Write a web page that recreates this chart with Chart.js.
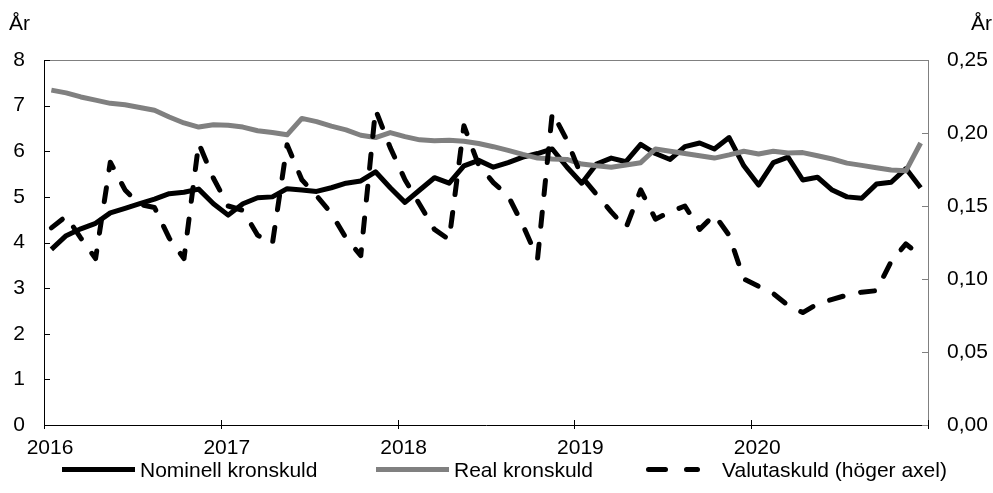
<!DOCTYPE html>
<html lang="sv">
<head>
<meta charset="utf-8">
<title>Statsskuldens löptid</title>
<script src="https://cdn.jsdelivr.net/npm/chart.js@4.4.1/dist/chart.umd.min.js"></script>
<style>
    body { margin: 0; background: #fff; }
    #wrap {
        position: relative;
        width: 993px;
        height: 493px;
        font-family: "Liberation Sans", Arial, sans-serif;
        font-size: 21px;
        color: #000;
    }
    #chart { position: absolute; left: 0; top: 0; }
    .axeltitel { position: absolute; top: 12px; line-height: 21px; }
    .legend-item {
        position: absolute;
        top: 459px;
        height: 21px;
        display: flex;
        align-items: center;
        gap: 5px;
        line-height: 21px;
        white-space: nowrap;
    }
    .legend-item svg { display: block; }
</style>
</head>
<body>
<div id="wrap">
    <canvas id="chart" width="993" height="493"></canvas>
    <div class="axeltitel" style="left: 9px;">År</div>
    <div class="axeltitel" style="left: 971px;">År</div>

    <div class="legend-item" style="left: 62px;">
        <svg width="73" height="21"><line x1="0" y1="10.5" x2="73" y2="10.5" stroke="#000" stroke-width="5"/></svg>
        <span>Nominell kronskuld</span>
    </div>
    <div class="legend-item" style="left: 376px;">
        <svg width="73" height="21"><line x1="0" y1="10.5" x2="73" y2="10.5" stroke="#808080" stroke-width="5"/></svg>
        <span>Real kronskuld</span>
    </div>
    <div class="legend-item" style="left: 646px;">
        <svg width="71" height="21"><line x1="2.5" y1="10.5" x2="51.5" y2="10.5" stroke="#000" stroke-width="5" stroke-linecap="round" stroke-dasharray="17 21"/></svg>
        <span>Valutaskuld (höger axel)</span>
    </div>
</div>

<script>
// Tick labels on the x axis (one per year)
const arLabels = ['2016', '2017', '2018', '2019', '2020'];

// Monthly values, Jan 2016 - Dec 2020 (år)
const nominell = [
    3.85, 4.15, 4.30, 4.42, 4.65, 4.75, 4.85, 4.95, 5.07, 5.10, 5.17, 4.85,
    4.60, 4.85, 4.98, 5.00, 5.18, 5.15, 5.12, 5.20, 5.30, 5.35, 5.55, 5.20,
    4.88, 5.15, 5.42, 5.30, 5.68, 5.80, 5.65, 5.75, 5.87, 5.95, 6.05, 5.65,
    5.30, 5.72, 5.85, 5.77, 6.15, 5.95, 5.82, 6.10, 6.18, 6.05, 6.30, 5.68,
    5.26, 5.75, 5.87, 5.37, 5.43, 5.15, 5.00, 4.97, 5.28, 5.32, 5.62, 5.20
];

const real = [
    7.34, 7.28, 7.19, 7.12, 7.05, 7.02, 6.96, 6.90, 6.75, 6.62, 6.53, 6.58,
    6.57, 6.53, 6.45, 6.41, 6.36, 6.72, 6.65, 6.55, 6.47, 6.35, 6.30, 6.41,
    6.32, 6.25, 6.23, 6.24, 6.22, 6.17, 6.10, 6.02, 5.93, 5.85, 5.83, 5.82,
    5.72, 5.68, 5.65, 5.70, 5.75, 6.05, 6.00, 5.95, 5.90, 5.85, 5.92, 6.00,
    5.94, 6.00, 5.96, 5.97, 5.90, 5.83, 5.74, 5.69, 5.64, 5.59, 5.57, 6.18
];

// Valutaskuld, höger axel
const valuta = [
    0.135, 0.143, 0.128, 0.114, 0.180, 0.161, 0.151, 0.149, 0.128, 0.114, 0.193, 0.169,
    0.150, 0.147, 0.130, 0.124, 0.192, 0.168, 0.157, 0.145, 0.128, 0.116, 0.216, 0.190,
    0.168, 0.151, 0.134, 0.127, 0.205, 0.178, 0.166, 0.157, 0.137, 0.114, 0.214, 0.195,
    0.170, 0.158, 0.146, 0.135, 0.161, 0.141, 0.146, 0.150, 0.134, 0.144, 0.130, 0.100,
    0.095, 0.090, 0.082, 0.077, 0.083, 0.086, 0.089, 0.091, 0.092, 0.112, 0.124, 0.116
];

// Each month sits in the middle of its slot on the x axis
function toPoints(values) {
    return values.map((v, i) => ({ x: i + 0.5, y: v }));
}

// Inward tick marks and the grey frame on top
const ramPlugin = {
    id: 'ram',
    afterDraw(chart) {
        const { ctx, chartArea: a, scales } = chart;
        ctx.save();
        ctx.lineWidth = 1;

        ctx.strokeStyle = '#808080';
        ctx.beginPath();
        ctx.moveTo(a.left, a.top + 0.5);
        ctx.lineTo(a.right, a.top + 0.5);
        scales.y1.ticks.forEach(t => {
            const y = Math.round(scales.y1.getPixelForValue(t.value)) + 0.5;
            ctx.moveTo(a.right - 6, y);
            ctx.lineTo(a.right, y);
        });
        ctx.stroke();

        ctx.strokeStyle = '#000';
        ctx.beginPath();
        scales.y.ticks.forEach(t => {
            const y = Math.round(scales.y.getPixelForValue(t.value)) + 0.5;
            ctx.moveTo(a.left, y);
            ctx.lineTo(a.left + 6, y);
        });
        scales.x.ticks.forEach(t => {
            const x = Math.round(scales.x.getPixelForValue(t.value)) + 0.5;
            ctx.moveTo(x, a.bottom - 5);
            ctx.lineTo(x, a.bottom + 4);
        });
        ctx.stroke();
        ctx.restore();
    }
};

Chart.defaults.font.family = '"Liberation Sans", Arial, sans-serif';
Chart.defaults.font.size = 21;
Chart.defaults.color = '#000';

const ctx = document.getElementById('chart').getContext('2d');
new Chart(ctx, {
    type: 'line',
    data: {
        datasets: [
            {
                label: 'Nominell kronskuld',
                data: toPoints(nominell),
                yAxisID: 'y',
                borderColor: '#000',
                borderWidth: 5,
                order: 2
            },
            {
                label: 'Real kronskuld',
                data: toPoints(real),
                yAxisID: 'y',
                borderColor: '#808080',
                borderWidth: 5,
                order: 1
            },
            {
                label: 'Valutaskuld (höger axel)',
                data: toPoints(valuta),
                yAxisID: 'y1',
                borderColor: '#000',
                borderWidth: 5,
                borderDash: [14, 18],
                borderCapStyle: 'round',
                order: 0
            }
        ]
    },
    options: {
        responsive: false,
        animation: false,
        elements: {
            point: { radius: 0 },
            line: { tension: 0, borderJoinStyle: 'round' }
        },
        layout: { padding: { top: 60, left: 0, right: 0, bottom: 0 } },
        plugins: {
            legend: { display: false },
            tooltip: { enabled: false }
        },
        scales: {
            x: {
                type: 'linear',
                min: 0,
                max: 60,
                afterFit: function(scale) { scale.height = 68; },
                ticks: {
                    stepSize: 12,
                    autoSkip: false,
                    maxRotation: 0,
                    padding: 11,
                    labelOffset: 6,
                    callback: function(value) {
                        return arLabels[value / 12] || '';
                    }
                },
                grid: { display: false, drawTicks: false },
                border: { display: true, color: '#000', width: 1 }
            },
            y: {
                position: 'left',
                min: 0,
                max: 8,
                afterFit: function(scale) { scale.width = 44; },
                ticks: { stepSize: 1, padding: 19 },
                grid: { display: false, drawTicks: false },
                border: { display: true, color: '#000', width: 1 }
            },
            y1: {
                position: 'right',
                min: 0,
                max: 0.25,
                afterFit: function(scale) { scale.width = 65; },
                ticks: {
                    stepSize: 0.05,
                    padding: 19,
                    callback: function(value) {
                        return value.toFixed(2).replace('.', ',');
                    }
                },
                grid: { display: false, drawTicks: false },
                border: { display: true, color: '#808080', width: 1 }
            }
        }
    },
    plugins: [ramPlugin]
});
</script>
</body>
</html>
